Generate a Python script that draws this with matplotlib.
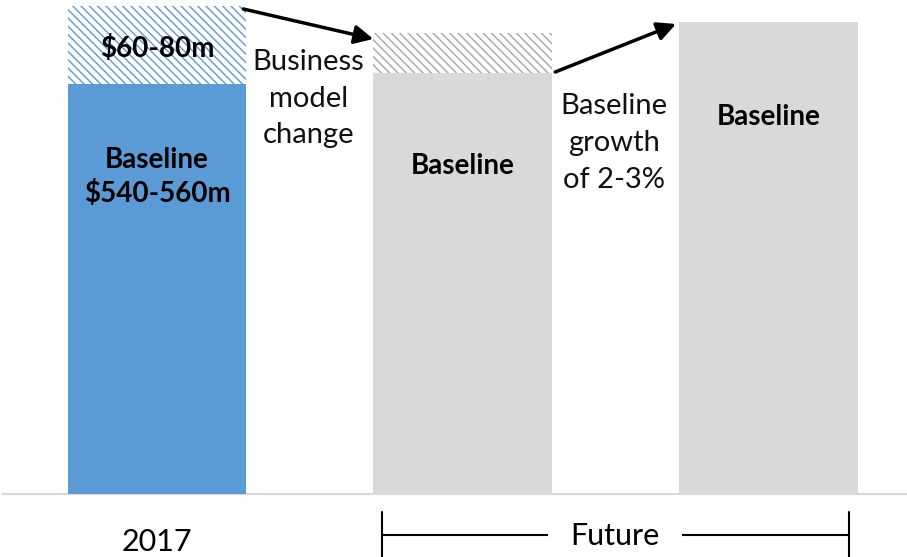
import matplotlib
matplotlib.use("Agg")
import matplotlib.pyplot as plt

plt.rcParams['font.family'] = ['Lato', 'DejaVu Sans']
plt.rcParams['hatch.linewidth'] = 1.0

# ---- data (relative bar heights) ----
positions = [0, 1, 2]
baseline = [410, 421, 472]
uplift = [78, 40, 0]          # hatched part on top of baseline
bar_colors = ['#5b9bd5', '#d9d9d9', '#d9d9d9']
hatch_colors = ['#5b9bd5', '#a6a6a6', '#a6a6a6']
bar_labels = ['Baseline\n$540-560m', 'Baseline', 'Baseline']
label_y = [317, 328, 377]
uplift_label = '$60-80m'
gap_texts = ['Business\nmodel\nchange', 'Baseline\ngrowth\nof 2-3%']
gap_text_y = [395, 351]
bar_w = 0.585

fig = plt.figure(figsize=(9.07, 5.57), dpi=100)
ax = fig.add_axes([0, 0, 1, 1])
ax.set_xlim(-0.5135, 2.453)
ax.set_ylim(-63, 494)
ax.axis('off')

# ground line
ax.axhline(0, xmin=0.003, xmax=1, color='#d9d9d9', lw=1.5, zorder=1)

ax.bar(positions, baseline, width=bar_w, color=bar_colors, lw=0, zorder=2)
for x, b, u, hc in zip(positions, baseline, uplift, hatch_colors):
    if u > 0:
        ax.bar(x, u, bottom=b, width=bar_w, color='white', edgecolor=hc,
               hatch='\\\\\\\\', lw=0, zorder=2)

for x, t, y in zip(positions, bar_labels, label_y):
    ax.text(x, y, t, ha='center', va='center', fontsize=20, fontweight='bold',
            linespacing=1.3, zorder=4)
ax.text(positions[0], baseline[0] + uplift[0] / 2 - 3, uplift_label,
        ha='center', va='center', fontsize=20, fontweight='bold', zorder=4)

for i, (t, y) in enumerate(zip(gap_texts, gap_text_y)):
    xm = (positions[i] + positions[i + 1]) / 2
    ax.text(xm - 0.005, y, t, ha='center', va='center', fontsize=21,
            linespacing=1.5, color='#111111', zorder=4)

# arrows between bars
tops = [b + u for b, u in zip(baseline, uplift)]
arrow_kw = dict(arrowstyle='-|>', color='black', lw=2.5, mutation_scale=28,
                shrinkA=0, shrinkB=0)
ax.annotate('', xy=(positions[1] - bar_w / 2, tops[1] - 6),
            xytext=(positions[0] + bar_w / 2 - 0.01, tops[0] - 3),
            arrowprops=arrow_kw, zorder=5)
ax.annotate('', xy=(positions[2] - bar_w / 2 - 0.01, tops[2] - 2),
            xytext=(positions[1] + bar_w / 2 + 0.01, baseline[1] + 1),
            arrowprops=arrow_kw, zorder=5)

# x labels
ax.text(positions[0], -48, '2017', ha='center', va='center', fontsize=22)
ax.annotate('', xy=(2.263, -41), xytext=(0.736, -41),
            arrowprops=dict(arrowstyle='|-|,widthA=0.75,widthB=0.75', lw=1.5,
                            color='black', mutation_scale=22,
                            shrinkA=0, shrinkB=0))
ax.text(1.497, -42, 'Future', ha='center', va='center', fontsize=22, zorder=5,
        bbox=dict(facecolor='white', edgecolor='none', pad=16))

fig.savefig('out.png', dpi=100)
